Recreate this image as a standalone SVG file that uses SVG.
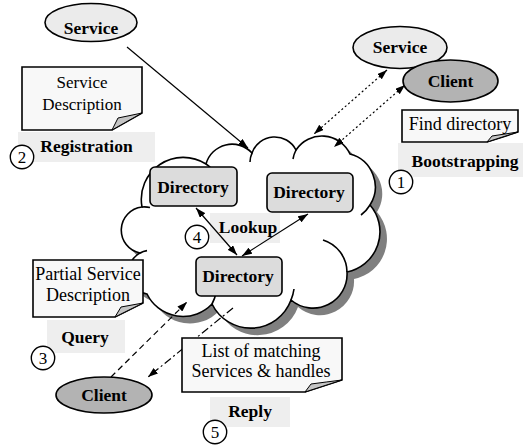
<svg xmlns="http://www.w3.org/2000/svg" width="523" height="447" viewBox="0 0 523 447">
<style>
text{font-family:"Liberation Serif","Times New Roman",serif;fill:#000}
.b{font-weight:bold;font-size:17.5px;text-anchor:middle}
.r{font-size:18px;text-anchor:middle}
.n{font-size:17px;text-anchor:middle}
.bg{fill:#eeeeee}
.note{fill:#f8f8f8;stroke:#000;stroke-width:1.6}
.fold{fill:#c4c4c4;stroke:#000;stroke-width:1}
.dir{fill:#dcdcdc;stroke:#000;stroke-width:1.6}
.ell{fill:#ebebeb;stroke:#000;stroke-width:1.6}
.cli{fill:#b3b3b3;stroke:#000;stroke-width:1.6}
.num{fill:#fff;stroke:#000;stroke-width:1.4}
.c{fill:none;stroke:#000;stroke-width:1.2}
.tail{fill:none;stroke:#000;stroke-width:1.6}
</style>
<defs>
<marker id="ah" viewBox="0 0 10 7" markerWidth="10" markerHeight="7" refX="10" refY="3.5" orient="auto-start-reverse" markerUnits="userSpaceOnUse">
<path d="M0,0 L10,3.5 L0,7 z" fill="#000"/>
</marker>
<path id="cloud" d="M142,207 A42,42 0 0 1 206,164 A27,27 0 0 1 252,153 A24,24 0 0 1 296,150 A31,31 0 0 1 350,154 A34,34 0 0 1 370,205 A41,41 0 0 1 347,272 A34,34 0 0 1 291,300 A43,43 0 0 1 212,304 A40,40 0 0 1 147,294 A22,22 0 0 1 140,253 A23.3,23.3 0 0 1 142,207 Z"/>
</defs>
<rect width="523" height="447" fill="#fff"/>

<g id="cloud-shape">
<use href="#cloud" transform="translate(7,7)" fill="#7f7f7f"/>
<use href="#cloud" fill="#fff" stroke="#000" stroke-width="1.6"/>
<path class="tail" d="M323,240 A34,34 0 0 1 347,272"/>
<path class="tail" d="M370,205 A34,34 0 0 1 361,215"/>
<path class="tail" d="M252,153 A24,24 0 0 0 250,162"/>
<path class="tail" d="M296,150 A31,31 0 0 0 293,159"/>
<path class="tail" d="M206,164 A42,42 0 0 1 211,168"/>
<path class="tail" d="M142,207 A23.3,23.3 0 0 1 150,207.5"/>
<path class="tail" d="M140,253 A22,22 0 0 1 147,250.6"/>
<path class="tail" d="M212,304 A40,40 0 0 0 216,293"/>
<path class="tail" d="M291,300 A43,43 0 0 0 294,289"/>
</g>

<g id="labels-bg">
<rect class="bg" x="18" y="132" width="137" height="30"/>
<rect class="bg" x="398" y="143" width="125" height="34"/>
<rect class="bg" x="47" y="320" width="78" height="33"/>
<rect class="bg" x="210" y="397" width="80" height="30"/>
<rect class="bg" x="210" y="213" width="70" height="30"/>
</g>

<g id="dir1"><rect class="dir" x="150" y="167" width="87" height="39" rx="5"/><text class="b" x="193" y="193">Directory</text></g>
<g id="dir2"><rect class="dir" x="267" y="173" width="86" height="39" rx="5"/><text class="b" x="309" y="198">Directory</text></g>
<g id="dir3"><rect class="dir" x="196" y="257" width="86" height="39" rx="5"/><text class="b" x="238" y="282">Directory</text></g>

<g id="connectors">
<line class="c" x1="127" y1="47" x2="248" y2="148" marker-end="url(#ah)"/>
<line class="c" x1="387" y1="70" x2="314" y2="134" stroke-width="2" stroke-dasharray="2 2.5" marker-start="url(#ah)" marker-end="url(#ah)"/>
<line class="c" x1="405" y1="85" x2="334" y2="147" stroke-width="2" stroke-dasharray="2 2.5" marker-start="url(#ah)" marker-end="url(#ah)"/>
<line class="c" x1="196" y1="208" x2="237" y2="255" marker-start="url(#ah)" marker-end="url(#ah)"/>
<line class="c" x1="308" y1="214" x2="242" y2="256" marker-start="url(#ah)" marker-end="url(#ah)"/>
<line class="c" x1="111" y1="377" x2="187" y2="302" stroke-dasharray="6 4" marker-end="url(#ah)"/>
<line class="c" x1="233" y1="308" x2="148" y2="377" stroke-dasharray="8 3 2 3" marker-end="url(#ah)"/>
</g>

<g id="service-top">
<ellipse class="ell" cx="91" cy="22.5" rx="46" ry="19"/>
<text class="b" x="91" y="34">Service</text>
</g>
<g id="service-right">
<ellipse class="ell" cx="400" cy="47.5" rx="47" ry="21"/>
<text class="b" x="400" y="53">Service</text>
</g>
<g id="client-right">
<ellipse class="cli" cx="450.5" cy="81" rx="47.5" ry="21"/>
<text class="b" x="450.5" y="87">Client</text>
</g>
<g id="client-bottom">
<ellipse class="cli" cx="104" cy="395" rx="48" ry="18"/>
<text class="b" x="104" y="401">Client</text>
</g>

<g id="note-service-description">
<path class="note" d="M22,67 H142 V113 L112,130 H22 Z"/>
<path class="fold" d="M112,130 L118,118 Q130,115.5 142,113 Z"/>
<text class="n" x="82" y="88">Service</text>
<text class="n" x="82" y="110">Description</text>
</g>
<g id="note-find">
<path class="note" d="M402,110 H518 V132 L487,142 H402 Z"/>
<path class="fold" d="M487,142 L492,136 Q505,134 518,132 Z"/>
<text class="r" x="460" y="130">Find directory</text>
</g>
<g id="note-partial">
<path class="note" d="M33,260 H143 V303 L115,317 H33 Z"/>
<path class="fold" d="M115,317 L121,307 Q132,305 143,303 Z"/>
<text class="r" x="88" y="280">Partial Service</text>
<text class="r" x="88" y="301">Description</text>
</g>
<g id="note-list">
<path class="note" d="M182,338 H342 V380 L305,392 H182 Z"/>
<path class="fold" d="M305,392 L311,384 Q326,382 342,380 Z"/>
<text class="r" x="261" y="357">List of matching</text>
<text class="r" x="261" y="377">Services &amp; handles</text>
</g>

<g id="labels">
<text class="b" x="86.5" y="152">Registration</text>
<text class="b" x="465" y="167">Bootstrapping</text>
<text class="b" x="85" y="343">Query</text>
<text class="b" x="250" y="417">Reply</text>
<text class="b" x="248" y="233">Lookup</text>
</g>

<g id="num1"><circle class="num" cx="401" cy="182" r="11.7"/><text class="n" x="401" y="188">1</text></g>
<g id="num2"><circle class="num" cx="22" cy="157" r="11.7"/><text class="n" x="22" y="163">2</text></g>
<g id="num3"><circle class="num" cx="43" cy="358" r="11.7"/><text class="n" x="43" y="364">3</text></g>
<g id="num4"><circle class="num" cx="197" cy="237" r="11.7"/><text class="n" x="197" y="243">4</text></g>
<g id="num5"><circle class="num" cx="215" cy="432" r="11.7"/><text class="n" x="215" y="438">5</text></g>
</svg>
